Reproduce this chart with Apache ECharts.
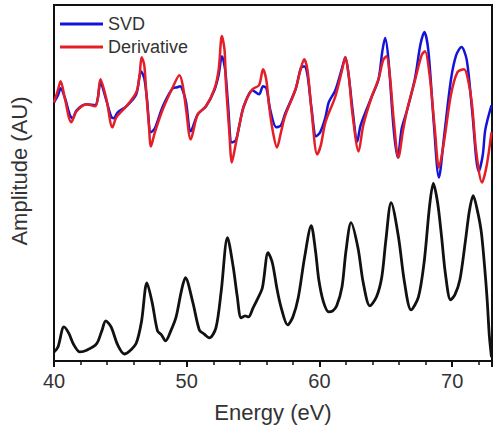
<!DOCTYPE html>
<html>
<head>
<meta charset="utf-8">
<title>Amplitude vs Energy</title>
<script src="https://cdn.jsdelivr.net/npm/echarts@6/dist/echarts.min.js"></script>
<style>
  html, body { margin: 0; padding: 0; background: #fff; }
  #chart { width: 495px; height: 430px; }
</style>
</head>
<body>
<div id="chart"></div>
<script>
// Photon energy (eV) and amplitude (arbitrary units) for each trace.
const svdEnergy = [40.0, 40.3, 40.5, 40.83, 41.2, 41.4, 41.7, 42.45, 43.1, 43.3, 43.5, 43.9, 44.3, 44.5, 44.8, 45.45, 46.2, 46.55, 46.8, 47.0, 47.3, 47.6, 48.2, 48.95, 49.3, 49.5, 49.7, 49.95, 50.3, 50.83, 51.45, 52.08, 52.4, 52.65, 52.9, 53.1, 53.4, 53.7, 53.95, 54.3, 54.95, 55.45, 55.75, 56.0, 56.3, 56.75, 57.1, 57.4, 58.2, 58.6, 58.85, 59.1, 59.4, 59.75, 60.05, 60.45, 60.7, 61.2, 61.7, 61.95, 62.2, 62.5, 62.85, 63.1, 63.95, 64.45, 64.75, 64.95, 65.2, 65.6, 65.9, 66.2, 66.6, 67.2, 67.6, 67.9, 68.2, 68.6, 69.0, 69.4, 69.9, 70.3, 70.7, 71.1, 71.5, 72.0, 72.3, 72.5, 72.96];
const svdAmplitude = [258, 265, 272, 262, 245, 242, 250, 256, 255, 262, 278, 262, 244, 242, 248, 254, 266, 289, 282, 262, 228, 232, 254, 272, 273, 274, 270, 258, 229, 246, 254, 270, 285, 304, 290, 258, 218, 220, 234, 254, 270, 266, 274, 272, 250, 233, 235, 246, 271, 292, 294, 285, 252, 224, 228, 243, 258, 270, 292, 303, 285, 250, 219, 235, 264, 281, 310, 322, 300, 230, 203, 232, 250, 282, 315, 328, 310, 240, 183, 225, 280, 305, 313, 300, 250, 189, 205, 231, 255];

const derivEnergy = [40.0, 40.25, 40.5, 40.83, 41.3, 41.7, 42.45, 43.1, 43.3, 43.5, 43.95, 44.4, 44.7, 45.45, 46.2, 46.45, 46.6, 46.8, 46.95, 47.15, 47.3, 47.6, 48.2, 48.95, 49.45, 49.7, 49.95, 50.3, 50.83, 51.45, 52.08, 52.4, 52.65, 52.85, 52.95, 53.2, 53.4, 53.6, 53.95, 54.3, 54.95, 55.45, 55.75, 56.0, 56.2, 56.5, 56.8, 57.1, 57.4, 58.2, 58.6, 58.85, 59.1, 59.4, 59.83, 60.1, 60.45, 61.2, 61.7, 61.95, 62.2, 62.5, 62.95, 63.3, 63.95, 64.45, 64.8, 65.05, 65.3, 65.6, 65.95, 66.3, 66.6, 67.2, 67.7, 67.95, 68.3, 68.7, 69.0, 69.4, 69.9, 70.4, 70.9, 71.2, 71.5, 71.8, 72.25, 72.6, 72.96];
const derivAmplitude = [258, 268, 279, 261, 238, 249, 256, 254, 262, 281, 261, 233, 243, 254, 268, 285, 303, 295, 268, 235, 214, 228, 251, 273, 285, 275, 251, 221, 246, 254, 271, 290, 324, 310, 278, 230, 198, 210, 234, 254, 271, 275, 291, 280, 255, 228, 213, 228, 244, 271, 292, 301, 290, 250, 206, 215, 238, 264, 290, 303, 285, 245, 209, 235, 264, 281, 300, 304, 285, 240, 203, 230, 250, 280, 305, 309, 285, 230, 193, 220, 265, 288, 291, 280, 255, 210, 178, 195, 228];

const spectrumEnergy = [40.0, 40.3, 40.75, 41.1, 41.5, 41.95, 42.5, 43.2, 43.6, 43.9, 44.3, 44.8, 45.3, 45.7, 46.2, 46.6, 47.0, 47.4, 47.8, 48.1, 48.4, 48.8, 49.2, 49.6, 49.9, 50.45, 50.95, 51.3, 51.7, 52.2, 52.6, 53.07, 53.5, 53.8, 54.1, 54.4, 54.65, 55.0, 55.3, 55.7, 56.13, 56.45, 56.8, 57.1, 57.6, 58.0, 58.4, 58.9, 59.38, 59.7, 59.95, 60.3, 60.7, 61.0, 61.3, 61.7, 62.0, 62.38, 62.9, 63.3, 63.8, 64.3, 64.7, 65.0, 65.4, 65.95, 66.4, 66.9, 67.46, 67.9, 68.3, 68.58, 68.9, 69.2, 69.5, 69.88, 70.2, 70.58, 71.0, 71.3, 71.58, 71.9, 72.2, 72.5, 72.65, 72.8, 72.96];
const spectrumAmplitude = [9, 14, 34, 28, 16, 9, 11, 17, 30, 40, 34, 16, 7, 10, 18, 40, 78, 58, 30, 26, 20, 30, 44, 70, 83, 59, 31, 27, 23, 33, 70, 123, 94, 65, 43, 45, 44, 53, 61, 73, 108, 98, 72, 54, 36, 44, 63, 105, 135, 110, 81, 59, 49, 50, 55, 74, 110, 138, 113, 78, 55, 64, 84, 120, 158, 124, 79, 51, 64, 100, 155, 177, 158, 124, 86, 61, 66, 81, 120, 150, 165, 150, 128, 85, 58, 25, 4];

const seriesNames = ['SVD', 'Derivative'];
const xTickLabels = [40, 50, 60, 70];

const FONT = '"Liberation Sans", Arial, Helvetica, sans-serif';

function pairs(xs, ys) {
  return xs.map((x, i) => [x, ys[i]]);
}

const chart = echarts.init(document.getElementById('chart'), null, { renderer: 'svg' });

chart.setOption({
  animation: false,
  backgroundColor: '#ffffff',
  grid: {
    left: 54, right: 2, top: 5, bottom: 69,
    show: true, borderColor: '#111', borderWidth: 2, backgroundColor: 'transparent'
  },
  legend: {
    data: seriesNames,
    orient: 'vertical',
    left: 55, top: 10,
    icon: 'rect',
    itemWidth: 43, itemHeight: 3,
    itemGap: 5,
    textStyle: { fontFamily: FONT, fontSize: 18, color: '#333' }
  },
  xAxis: [
    {
      type: 'value', min: 40, max: 73, interval: 10,
      name: 'Energy (eV)', nameLocation: 'middle', nameGap: 40,
      nameTextStyle: { fontFamily: FONT, fontSize: 22, color: '#333' },
      axisLine: { show: true, lineStyle: { color: '#111', width: 2 } },
      axisTick: { show: true, length: 6, lineStyle: { color: '#111', width: 2 } },
      axisLabel: {
        margin: 10, fontFamily: FONT, fontSize: 20, color: '#333',
        formatter: v => (xTickLabels.indexOf(v) >= 0 ? String(v) : '')
      },
      splitLine: { show: false }
    },
    {
      // minor ticks every 2 eV
      type: 'value', min: 40, max: 73, interval: 2, position: 'bottom',
      axisLine: { show: false },
      axisTick: { show: true, length: 4, lineStyle: { color: '#111', width: 1.5 } },
      axisLabel: { show: false },
      splitLine: { show: false }
    }
  ],
  yAxis: {
    type: 'value', min: 0, max: 355,
    axisLine: { show: true, lineStyle: { color: '#111', width: 2 } },
    axisTick: { show: false },
    axisLabel: { show: false },
    splitLine: { show: false }
  },
  graphic: [{
    type: 'text',
    x: 19, y: 171,
    rotation: Math.PI / 2,
    style: {
      text: 'Amplitude (AU)',
      font: '22px ' + FONT,
      fill: '#333',
      align: 'center',
      verticalAlign: 'middle'
    }
  }],
  series: [
    {
      name: 'SVD', type: 'line', xAxisIndex: 0,
      data: pairs(svdEnergy, svdAmplitude),
      smooth: 0.3, showSymbol: false,
      color: '#1414d8',
      lineStyle: { color: '#1414d8', width: 2.5 }
    },
    {
      name: 'Derivative', type: 'line', xAxisIndex: 0,
      data: pairs(derivEnergy, derivAmplitude),
      smooth: 0.3, showSymbol: false,
      color: '#e41e26',
      lineStyle: { color: '#e41e26', width: 2.5 }
    },
    {
      name: 'Spectrum', type: 'line', xAxisIndex: 0,
      data: pairs(spectrumEnergy, spectrumAmplitude),
      smooth: 0.3, showSymbol: false,
      color: '#111',
      lineStyle: { color: '#111', width: 2.8 }
    }
  ]
});
</script>
</body>
</html>
